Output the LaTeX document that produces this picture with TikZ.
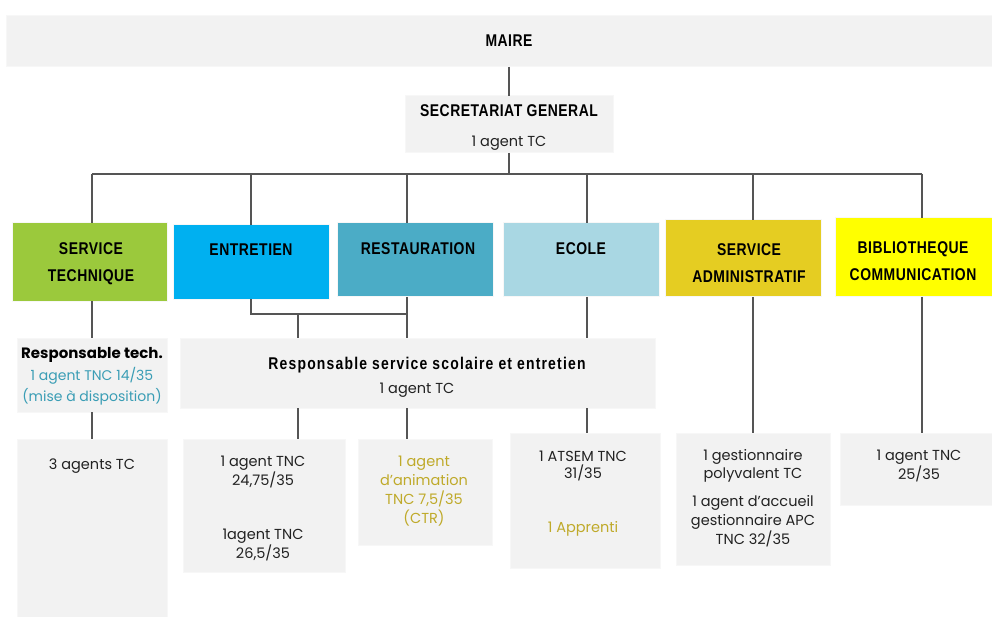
\documentclass[tikz,border=0pt]{standalone}
\usepackage{fontspec}
\setmainfont{Poppins}
\newfontfamily\headfont[FakeStretch=0.82,LetterSpace=3]{Liberation Sans}
\newfontfamily\rssfont[FakeStretch=0.82,LetterSpace=7]{Liberation Sans}
\definecolor{boxgray}{HTML}{F2F2F2}
\definecolor{stgreen}{HTML}{9BC93C}
\definecolor{entblue}{HTML}{00B0F0}
\definecolor{restblue}{HTML}{4BACC6}
\definecolor{ecoleblue}{HTML}{A9D7E3}
\definecolor{admgold}{HTML}{E5CD22}
\definecolor{bibyellow}{HTML}{FFFF00}
\definecolor{tealtxt}{HTML}{3A9DB5}
\definecolor{olivetxt}{HTML}{BFAA2A}
\definecolor{linegray}{HTML}{555555}
\definecolor{txt}{HTML}{222222}
\begin{document}
\begin{tikzpicture}[x=1pt,y=-1pt,
  boxnode/.style={draw=white!97!black,line width=1pt,inner sep=0pt,outer sep=0pt},
  conn/.style={draw=linegray,line width=1.2pt},
  headtxt/.style={font=\headfont\bfseries\fontsize{17}{27}\selectfont,text=black,align=center,inner sep=0pt},
  bodytxt/.style={font=\fontsize{14.5}{17.5}\selectfont,text=txt,align=center,inner sep=0pt}]
\useasboundingbox[fill=white] (0,0) rectangle (992,617);
% boxes
\def\mkbox#1#2#3#4#5#6{\node[boxnode,fill=#6,minimum width={#4-#2},minimum height={#5-#3}] (#1) at ({(#2+#4)/2},{(#3+#5)/2}) {};}
\mkbox{maire}{6}{16}{992}{67}{boxgray}
\mkbox{sg}{405}{96}{613}{153}{boxgray}
\mkbox{st}{12}{223}{167}{301}{stgreen}
\mkbox{ent}{173}{225}{329}{299}{entblue}
\mkbox{rest}{337}{223}{493}{297}{restblue}
\mkbox{ecole}{503}{223}{659}{297}{ecoleblue}
\mkbox{admin}{665}{220}{821}{297}{admgold}
\mkbox{bib}{835}{218}{992}{297}{bibyellow}
\mkbox{rt}{17}{338}{167}{412}{boxgray}
\mkbox{agents}{17}{439}{167}{617}{boxgray}
\mkbox{rss}{180}{338}{655}{408}{boxgray}
\mkbox{tnc}{183}{439}{345}{572}{boxgray}
\mkbox{anim}{358}{439}{492}{545}{boxgray}
\mkbox{atsem}{510}{433}{660}{568}{boxgray}
\mkbox{gest}{676}{433}{830}{565}{boxgray}
\mkbox{bibag}{840}{433}{992}{505}{boxgray}
% connector coordinates
\coordinate (bus) at (0,174);
\coordinate (d1) at (92,174);
\coordinate (d2) at (251,174);
\coordinate (d3) at (407,174);
\coordinate (d4) at (587,174);
\coordinate (d5) at (753,174);
\coordinate (d6) at (922,174);
\coordinate (jy) at (0,314);
\coordinate (jx) at (298,0);
% connectors
\draw[conn] (sg.north |- maire.south) -- (sg.north);
\draw[conn] (sg.south) -- (sg.south |- bus);
\draw[conn] (d1) -- (d6);
\draw[conn] (d1) -- (d1 |- st.north);
\draw[conn] (d2) -- (d2 |- ent.north);
\draw[conn] (d3) -- (d3 |- rest.north);
\draw[conn] (d4) -- (d4 |- ecole.north);
\draw[conn] (d5) -- (d5 |- admin.north);
\draw[conn] (d6) -- (d6 |- bib.north);
\draw[conn] (d1 |- st.south) -- (d1 |- rt.north);
\draw[conn] (d1 |- rt.south) -- (d1 |- agents.north);
\draw[conn] (d2 |- ent.south) -- (d2 |- jy) -- (d3 |- jy);
\draw[conn] (d3 |- rest.south) -- (d3 |- rss.north);
\draw[conn] (jx |- jy) -- (jx |- rss.north);
\draw[conn] (d4 |- ecole.south) -- (d4 |- rss.north);
\draw[conn] (jx |- rss.south) -- (jx |- tnc.north);
\draw[conn] (d3 |- rss.south) -- (d3 |- anim.north);
\draw[conn] (d4 |- rss.south) -- (d4 |- atsem.north);
\draw[conn] (d5 |- admin.south) -- (d5 |- gest.north);
\draw[conn] (d6 |- bib.south) -- (d6 |- bibag.north);
% texts
\node[headtxt] (tmaire) at (509,41) {MAIRE};
\node[headtxt] (tsg) at (509,111) {SECRETARIAT GENERAL};
\node[bodytxt] (tsg2) at (509,143) {1 agent TC};
\node[headtxt] (tst) at (91,264) {SERVICE\\TECHNIQUE};
\node[headtxt] (tent) at (251,250) {ENTRETIEN};
\node[headtxt] (trest) at (418,249) {RESTAURATION};
\node[headtxt] (tecole) at (581,249) {ECOLE};
\node[headtxt] (tadmin) at (749,263) {SERVICE\\ADMINISTRATIF};
\node[headtxt] (tbib) at (913,261) {BIBLIOTHEQUE\\COMMUNICATION};
\node[font=\bfseries\fontsize{15}{17}\selectfont,inner sep=0pt] (trt1) at (92,355) {Responsable tech.};
\node[bodytxt,text=tealtxt,font=\fontsize{14}{20.5}\selectfont] (trt2) at (92,386) {1 agent TNC 14/35\\(mise à disposition)};
\node[bodytxt] (tag) at (92,466) {3 agents TC};
\node[font=\rssfont\bfseries\fontsize{17}{20}\selectfont,inner sep=0pt] (trss1) at (427,365) {Responsable service scolaire et entretien};
\node[bodytxt] (trss2) at (417,390) {1 agent TC};
\node[bodytxt] (ttnc1) at (263,472) {1 agent TNC\\24,75/35};
\node[bodytxt] (ttnc2) at (263,545) {1agent TNC\\26,5/35};
\node[bodytxt,text=olivetxt,font=\fontsize{14.5}{19}\selectfont] (tanim) at (424,491) {1 agent\\d'animation\\TNC 7,5/35\\(CTR)};
\node[bodytxt] (tatsem) at (583,466) {1 ATSEM TNC\\31/35};
\node[bodytxt,text=olivetxt] (tappr) at (583,529) {1 Apprenti};
\node[bodytxt] (tgest1) at (753,466) {1 gestionnaire\\polyvalent TC};
\node[bodytxt,font=\fontsize{14.5}{19}\selectfont] (tgest2) at (753,521) {1 agent d'accueil\\gestionnaire APC\\TNC 32/35};
\node[bodytxt] (tbibag) at (919,466) {1 agent TNC\\25/35};
\end{tikzpicture}
\end{document}
